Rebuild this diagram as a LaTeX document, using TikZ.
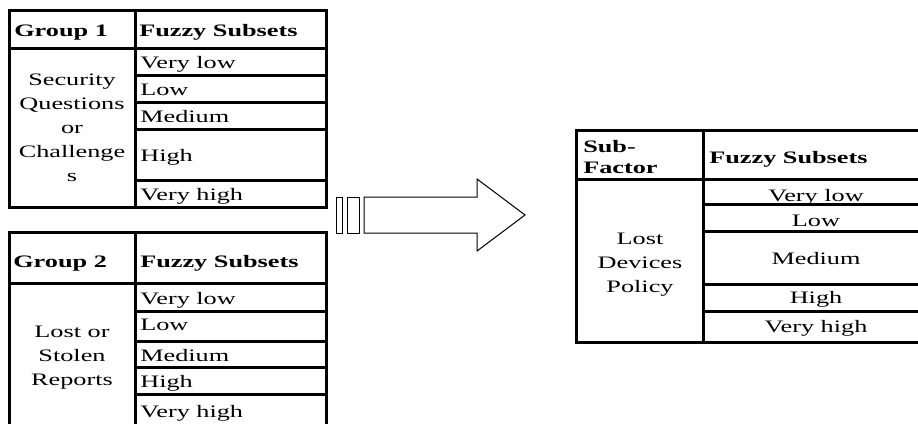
\documentclass[tikz,border=0pt]{standalone}
\usepackage{fontspec}
\setmainfont{Liberation Serif}
\begin{document}
\begin{tikzpicture}[x=1pt,y=-1pt,
  rule/.style={line width=3pt, line join=miter},
  thin/.style={line width=1pt, line join=miter},
  txt/.style={inner sep=0pt, xscale=1.5, font=\fontsize{17.5}{24}\selectfont},
  cellL/.style={txt, anchor=base west},
  cellC/.style={txt, anchor=base},
  head/.style={cellL, font=\fontsize{17.5}{21}\selectfont\bfseries},
  multi/.style={txt, align=center, anchor=center}]
\useasboundingbox (0,0) rectangle (918,423);
\clip (0,0) rectangle (918,423);

% ---- Group 1 table ----
\draw[rule] (9,10) rectangle (326,207);
\draw[rule] (9,48) -- (326,48);
\draw[rule] (135,10) -- (135,207);
\foreach \yy in {75,102,129,180} \draw[rule] (135,\yy) -- (326,\yy);
\node[head] (g1h) at (14,36) {Group 1};
\node[head] (g1f) at (139,36) {Fuzzy Subsets};
\node[multi] (g1n) at (72,128) {Security\\Questions\\or\\Challenge\\s};
\node[cellL] (g1a) at (140,68) {Very low};
\node[cellL] (g1b) at (140,95) {Low};
\node[cellL] (g1c) at (140,122) {Medium};
\node[cellL] (g1d) at (140,161) {High};
\node[cellL] (g1e) at (140,200) {Very high};

% ---- Group 2 table ----
\draw[rule] (9,440) -- (9,232) -- (326,232) -- (326,440);
\draw[rule] (9,283) -- (326,283);
\draw[rule] (135,232) -- (135,440);
\foreach \yy in {311,341,367,394} \draw[rule] (135,\yy) -- (326,\yy);
\node[head] (g2h) at (13,267) {Group 2};
\node[head] (g2f) at (140,267) {Fuzzy Subsets};
\node[multi] (g2n) at (72,358) {Lost or\\Stolen\\Reports};
\node[cellL] (g2a) at (140,304) {Very low};
\node[cellL] (g2b) at (140,330) {Low};
\node[cellL] (g2c) at (140,361) {Medium};
\node[cellL] (g2d) at (140,387) {High};
\node[cellL] (g2e) at (140,417) {Very high};

% ---- block arrow ----
\draw[thin] (336,197) rectangle (342,233);
\draw[thin] (347,197) rectangle (359,233);
\draw[thin] (364,197) -- (477,197) -- (477,179) -- (525,215)
  -- (477,251) -- (477,233) -- (364,233) -- cycle;

% ---- Sub-factor table ----
\draw[rule] (940,130) -- (576,130) -- (576,342) -- (940,342);
\draw[rule] (576,179) -- (940,179);
\draw[rule] (703,130) -- (703,342);
\foreach \yy in {204,231,284,311} \draw[rule] (703,\yy) -- (940,\yy);
\node[txt, align=left, anchor=west, font=\fontsize{17.5}{21}\selectfont\bfseries] (sfh) at (583,157) {Sub-\\Factor};
\node[head] (sff) at (709,163) {Fuzzy Subsets};
\node[multi] (sfn) at (640,265) {Lost\\Devices\\Policy};
\node[cellC] (sfa) at (816,201) {Very low};
\node[cellC] (sfb) at (816,226) {Low};
\node[cellC] (sfc) at (816,264) {Medium};
\node[cellC] (sfd) at (816,303) {High};
\node[cellC] (sfe) at (816,332) {Very high};
\end{tikzpicture}
\end{document}
